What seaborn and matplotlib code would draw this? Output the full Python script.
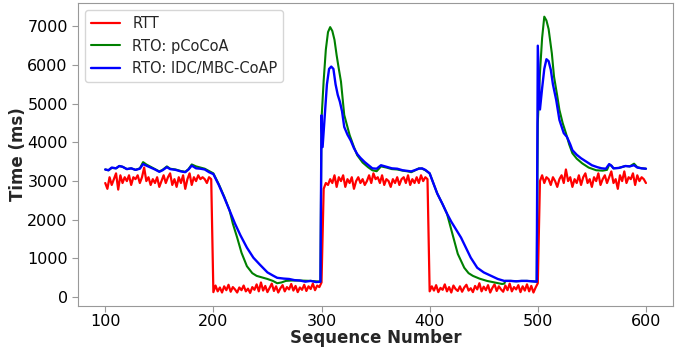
import numpy as np
import pandas as pd
import seaborn as sns
import matplotlib
matplotlib.use("Agg")
import matplotlib.pyplot as plt

## Data
# RTT, one sample every 2 sequence numbers (100..600)
rtt_seq = np.arange(100, 601, 2)
rtt_ms = [
    # 100-198
    2950, 2800, 3100, 2900, 3050, 3200, 2780, 3150, 2950, 3100,
    3000, 3150, 2900, 3100, 3050, 3150, 2950, 3100, 3350, 3000,
    3100, 2900, 3050, 2950, 3100, 2850, 3000, 3150, 2950, 3100,
    3200, 2900, 3050, 2850, 3100, 2950, 3150, 2800, 3050, 3200,
    2900, 3100, 3000, 3150, 3050, 3100, 3050, 2950, 3100, 3050,
    # 200-298
    130, 300, 150, 250, 120, 280, 180, 320, 140, 260,
    200, 120, 250, 180, 300, 150, 220, 110, 260, 190,
    330, 150, 380, 170, 290, 130, 240, 350, 160, 280,
    120, 230, 310, 150, 260, 200, 340, 170, 290, 130,
    250, 190, 320, 160, 280, 210, 350, 180, 300, 260,
    # 300
    380,
    # 302-398
    2800, 2950, 2900, 3050, 2950, 3150, 2850, 3100, 3000, 3150,
    2850, 3050, 2950, 3100, 2800, 3000, 3100, 2950, 3050, 2900,
    3000, 3150, 2950, 3200, 3050, 3100, 2950, 3150, 2900, 3050,
    3000, 2850, 3050, 2950, 3100, 2900, 3050, 3100, 2950, 3150,
    2900, 3050, 2950, 3100, 2950, 3150, 3000, 3100, 3050,
    # 400-498
    150, 280, 170, 310, 130, 240, 190, 330, 150, 260,
    120, 300, 210, 160, 280, 140, 250, 320, 170, 230,
    130, 290, 200, 360, 150, 270, 180, 310, 120, 240,
    330, 160, 280, 200, 140, 300, 180, 350, 150, 260,
    200, 310, 130, 280, 170, 330, 150, 290, 120, 250,
    # 500
    360,
    # 502-600
    3000, 3150, 2950, 3100, 3050, 2900, 3100, 3000, 2850, 3050,
    3150, 2950, 3300, 3000, 3100, 2850, 3050, 2950, 3150, 2900,
    3100, 3200, 2950, 3050, 2850, 3100, 3000, 3200, 2900, 3050,
    3150, 2950, 3100, 3250, 2950, 3050, 2800, 3150, 3000, 3250,
    2950, 3100, 3050, 3200, 2900, 3150, 3000, 3100, 3050, 2950,
]

# RTO of IDC/MBC-CoAP
idc_seq = [100, 103, 106, 110, 113, 116, 120, 124, 128, 132, 135, 138, 142, 146, 150,
           153, 157, 160, 165, 170, 174, 177, 180, 184, 188, 192, 196, 200,
           205, 210, 215, 220, 225, 231, 237, 243, 250, 255, 259, 265, 270, 275, 280,
           285, 290, 295, 299,
           300, 301, 303, 305, 307, 309, 311, 313, 315, 317, 319, 321, 324, 327, 330,
           333, 336, 340, 344, 347, 351, 355, 360, 365, 370, 375, 380, 383, 386, 390,
           393, 396, 400,
           404, 407, 412, 416, 420, 425, 429, 434, 438, 444, 450, 457, 463, 469, 475,
           480, 485, 490, 495, 499,
           500, 502, 504, 506, 508, 510, 512, 514, 517, 520, 524, 527, 530, 532, 536,
           540, 545, 550, 555, 559, 563, 566, 568, 570, 575, 581, 585, 589, 592, 596, 600]
idc_rto = [3300, 3280, 3350, 3330, 3390, 3370, 3310, 3330, 3290, 3320, 3440, 3400, 3350, 3300, 3240,
           3280, 3360, 3310, 3290, 3250, 3230, 3300, 3400, 3330, 3320, 3300, 3230, 3180,
           2900, 2580, 2240, 1900, 1600, 1280, 1020, 840, 640, 560, 500, 480, 470, 440, 430,
           400, 420, 390, 400,
           4700, 3880, 4700, 5500, 5900, 5960, 5900, 5500, 5230, 5050, 4800, 4400, 4200, 4050, 3850,
           3700, 3600, 3490, 3400, 3330, 3320, 3410, 3370, 3330, 3320, 3280, 3260, 3250, 3280, 3320,
           3330, 3290, 3200,
           2900, 2680, 2400, 2160, 1950, 1720, 1540, 1250, 1020, 760, 640, 550, 470, 420, 420,
           410, 420, 420, 410, 400,
           6500, 4850, 5400, 5900, 6150, 6100, 5880, 5500, 5100, 4580, 4240, 4140, 3950, 3800, 3680,
           3590, 3500, 3410, 3360, 3330, 3320, 3440, 3400, 3330, 3340, 3390, 3380, 3410, 3350, 3330, 3320]

# RTO of pCoCoA
cocoa_seq = [100, 103, 106, 110, 113, 116, 120, 124, 128, 132, 135, 138, 142, 146, 150,
             153, 157, 160, 165, 170, 174, 177, 180, 184, 188, 192, 196, 200,
             205, 210, 215, 218, 222, 226, 231, 236, 240, 245, 250, 255, 259, 263, 267,
             272, 280, 290, 299,
             300, 302, 304, 306, 308, 310, 312, 314, 316, 318, 321, 324, 326, 330, 333,
             338, 343, 347, 351, 355, 360, 365, 370, 375, 380, 383, 386, 390, 393, 396, 400,
             404, 407, 412, 416, 421, 426, 432, 436, 440, 446, 453, 460, 467, 469, 470,
             475, 480, 485, 490, 495, 499,
             500, 502, 504, 506, 508, 510, 513, 515, 518, 520, 523, 526, 529, 532, 536,
             541, 547, 554, 560, 564, 566, 568, 570, 575, 581, 585, 589, 592, 596, 600]
cocoa_rto = [3300, 3280, 3340, 3330, 3390, 3370, 3310, 3330, 3290, 3330, 3490, 3430, 3370, 3310, 3250,
             3290, 3380, 3320, 3300, 3260, 3240, 3310, 3430, 3380, 3350, 3320, 3260, 3200,
             2920, 2600, 2240, 1900, 1540, 1150, 800, 620, 550, 510, 470, 420, 360, 380, 420,
             430, 430, 420, 400,
             4600, 5600, 6400, 6850, 6980, 6880, 6650, 6250, 5900, 5570, 4710, 4400, 4190, 3880, 3670,
             3480, 3360, 3280, 3255, 3380, 3350, 3310, 3300, 3270, 3250, 3230, 3270, 3330, 3320, 3280, 3200,
             2900, 2680, 2400, 2160, 1640, 1120, 760, 620, 550, 480, 420, 380, 340, 350, 420,
             420, 410, 420, 420, 410, 400,
             4500, 5800, 6700, 7250, 7150, 6930, 6300, 5700, 5200, 4840, 4500, 4240, 3950, 3720, 3580,
             3460, 3350, 3280, 3270, 3290, 3420, 3400, 3330, 3340, 3390, 3380, 3450, 3360, 3330, 3320]

df_rtt = pd.DataFrame({"seq": rtt_seq, "time": rtt_ms})
df_cocoa = pd.DataFrame({"seq": cocoa_seq, "time": cocoa_rto})
df_idc = pd.DataFrame({"seq": idc_seq, "time": idc_rto})

## Plotting
sns.set_style("ticks", {"axes.edgecolor": "0.6", "xtick.color": "0.6", "ytick.color": "0.6"})
plt.rcParams["font.family"] = ["DejaVu Sans"]
plt.rcParams["xtick.labelcolor"] = "black"
plt.rcParams["ytick.labelcolor"] = "black"

fig, ax = plt.subplots(figsize=(6.92, 3.47), dpi=100)
fig.subplots_adjust(left=0.113, right=0.9725, bottom=0.118, top=0.991)

sns.lineplot(ax=ax, data=df_rtt, x="seq", y="time", color="red", lw=1.6,
             label="RTT", estimator=None, sort=False)
sns.lineplot(ax=ax, data=df_cocoa, x="seq", y="time", color="green", lw=1.5,
             label="RTO: pCoCoA", estimator=None, sort=False)
sns.lineplot(ax=ax, data=df_idc, x="seq", y="time", color="blue", lw=1.7,
             label="RTO: IDC/MBC-CoAP", estimator=None, sort=False)

ax.set_xlim(75, 625)
ax.set_ylim(-230, 7600)
ax.set_xticks([100, 200, 300, 400, 500, 600])
ax.set_yticks(range(0, 7001, 1000))
ax.tick_params(labelsize=11.5, length=4)
ax.tick_params(axis="x", pad=2)
ax.set_xlabel("Sequence Number", fontsize=12, fontweight="bold")
ax.set_ylabel("Time (ms)", fontsize=12, fontweight="bold")
ax.xaxis.set_label_coords(0.5, -0.077)
ax.yaxis.set_label_coords(-0.086, 0.5)
ax.legend(loc="upper left", fontsize=10.5)

fig.savefig("out.png", dpi=100)
